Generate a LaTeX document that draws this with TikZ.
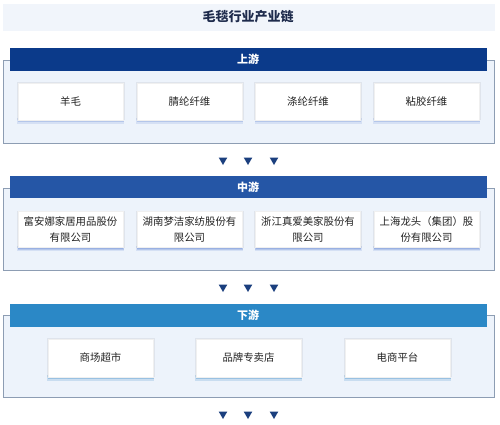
\documentclass[tikz,border=0pt]{standalone}
\usepackage{fontspec}
\setmainfont{Noto Sans CJK SC}
\usetikzlibrary{shapes.geometric}
\definecolor{titlebg}{HTML}{F1F5FB}
\definecolor{titlefg}{HTML}{1E2B4C}
\definecolor{hdrA}{HTML}{0B3A8A}
\definecolor{hdrB}{HTML}{2556A6}
\definecolor{hdrC}{HTML}{2B88C6}
\definecolor{framebg}{HTML}{EDF3FB}
\definecolor{frameln}{HTML}{8D9DB3}
\definecolor{arrowc}{HTML}{1B3F7E}
\definecolor{boxtxt}{HTML}{222222}
\definecolor{shadowA}{HTML}{8EA8E0}
\definecolor{shadowC}{HTML}{5F9FD3}
\tikzset{
  frame/.style={draw=frameln, fill=framebg, line width=0.8pt},
  hdr/.style={text=white, font=\bfseries\fontsize{11}{13}\selectfont, inner sep=0pt},
  itembox/.style={fill=white, draw=black!6, line width=0.4pt, text=boxtxt,
     font=\fontsize{10.4}{16}\selectfont, align=center, inner sep=0pt},
  tri/.style={regular polygon, regular polygon sides=3, shape border rotate=180,
     fill=arrowc, minimum size=10pt, inner sep=0pt},
}
\newcommand{\softshadow}[4]{% x, top, bottom, colour
  \fill[#4, opacity=0.25] (#1-53.5,#3-2) rectangle (#1+53.5,#3+3.5);
  \fill[#4, opacity=0.45] (#1-53,#3-2) rectangle (#1+53,#3+2.2);
  \fill[#4, opacity=0.7] (#1-52.5,#3-2) rectangle (#1+52.5,#3+1);
  \fill[black, opacity=0.06] (#1-54,#2-1) rectangle (#1+54,#3);
}
\begin{document}
\begin{tikzpicture}[x=1pt,y=-1pt]
\useasboundingbox (0,0) rectangle (500,425);
\fill[white] (0,0) rectangle (500,425);
% title
\fill[titlebg] (3,4) rectangle (495,31);
\node[text=titlefg, font=\bfseries\fontsize{13}{15}\selectfont] (title) at (248,17) {毛毯行业产业链};

% ---------- upstream ----------
\draw[frame] (3.5,60.5) rectangle (494,143);
\fill[hdrA] (10,48) rectangle (487,71);
\node[hdr] (up) at (248,59.5) {上游};
\foreach \x/\t/\n in {70.5/羊毛/u1, 189.5/腈纶纤维/u2, 308/涤纶纤维/u3, 426.5/粘胶纤维/u4}{
  \softshadow{\x}{83}{120}{shadowA}
  \node[itembox, minimum width=105pt, minimum height=37pt] (\n) at (\x,101.5) {\t};
}

% arrows 1
\node[tri] (a1) at (223,160) {};
\node[tri] (a2) at (248,160) {};
\node[tri] (a3) at (274,160) {};

% ---------- midstream ----------
\draw[frame] (3.5,188.5) rectangle (494,270);
\fill[hdrB] (10,176) rectangle (487,198);
\node[hdr] (mid) at (248,187) {中游};
\foreach \x/\t/\n in {70.5/{富安娜家居用品股份\\有限公司}/m1, 189.5/{湖南梦洁家纺股份有\\限公司}/m2, 308/{浙江真爱美家股份有\\限公司}/m3, 426.5/{上海龙头（集团）股\\份有限公司}/m4}{
  \softshadow{\x}{211.5}{247.5}{shadowA}
  \node[itembox, minimum width=105pt, minimum height=36pt] (\n) at (\x,229.5) {\t};
}

% arrows 2
\node[tri] (b1) at (223,287) {};
\node[tri] (b2) at (248,287) {};
\node[tri] (b3) at (274,287) {};

% ---------- downstream ----------
\draw[frame] (3.5,315.5) rectangle (494,397);
\fill[hdrC] (10,304) rectangle (487,327);
\node[hdr] (down) at (248,315.5) {下游};
\foreach \x/\t/\n in {100.5/商场超市/d1, 248.5/品牌专卖店/d2, 397.5/电商平台/d3}{
  \softshadow{\x}{339}{377}{shadowC}
  \node[itembox, minimum width=105pt, minimum height=38pt] (\n) at (\x,358) {\t};
}

% arrows 3
\node[tri] (c1) at (223,414) {};
\node[tri] (c2) at (248,414) {};
\node[tri] (c3) at (274,414) {};
\end{tikzpicture}
\end{document}
